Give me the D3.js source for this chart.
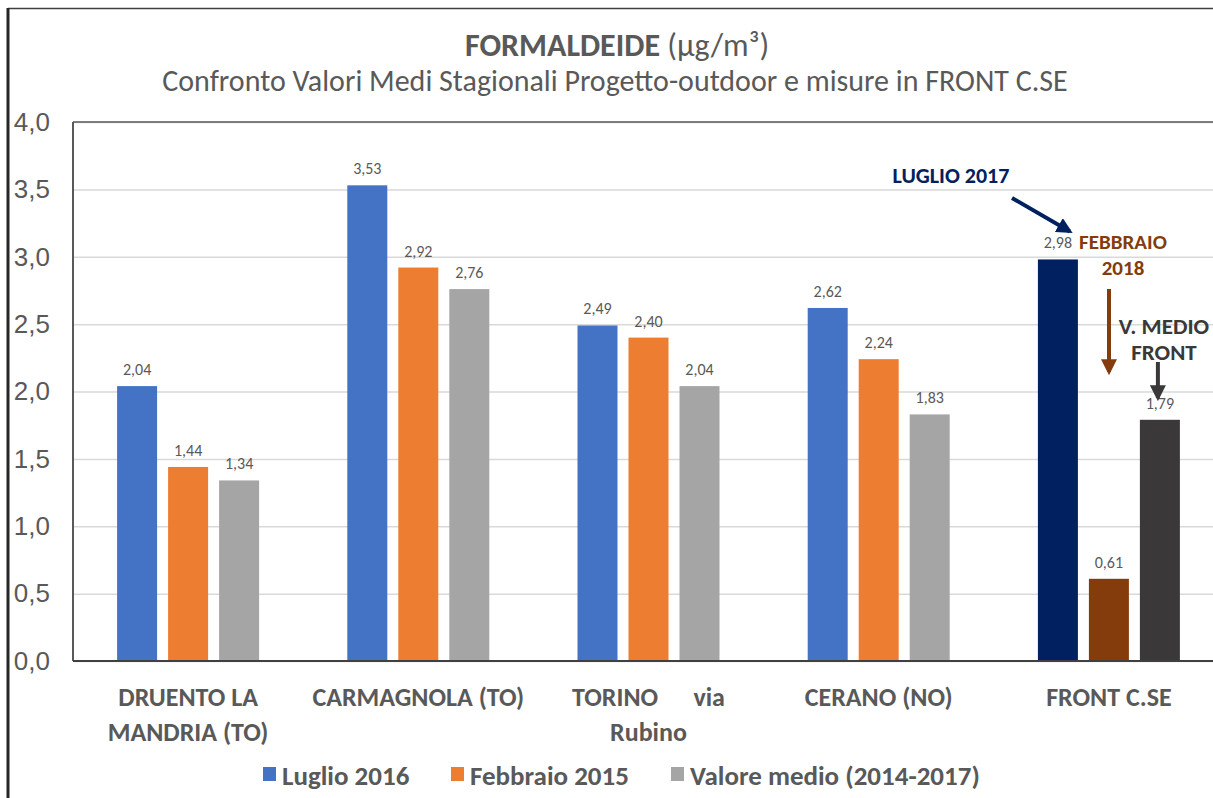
<!DOCTYPE html>
<html>
<head>
<meta charset="utf-8">
<script src="https://cdn.jsdelivr.net/npm/d3@7"></script>
<style>
  body { margin: 0; background: #fff; }
  svg { display: block; font-family: Carlito, "Liberation Sans Narrow", "Open Sans", sans-serif; }
  text { white-space: pre; }
</style>
</head>
<body>
<svg id="chart" width="1213" height="798"></svg>
<script>
const categories = [
  ['DRUENTO LA', 'MANDRIA (TO)'],
  ['CARMAGNOLA (TO)'],
  ['TORINO      via', 'Rubino'],
  ['CERANO (NO)'],
  ['FRONT C.SE']
]
const seriesNames = ['Luglio 2016', 'Febbraio 2015', 'Valore medio (2014-2017)']
const luglio = [2.04, 3.53, 2.49, 2.62, 2.98]
const febbraio = [1.44, 2.92, 2.40, 2.24, 0.61]
const medio = [1.34, 2.76, 2.04, 1.83, 1.79]
const yTicks = [0, 0.5, 1, 1.5, 2, 2.5, 3, 3.5, 4]

const colors = ['#4472C4', '#ED7D31', '#A5A5A5']
const frontColors = ['#002060', '#843C0C', '#3A3838']

const svg = d3.select('#chart')
const margin = { left: 73, top: 122, bottom: 661, right: 1224 }
const it = d3.formatLocale({ decimal: ',', thousands: '.', grouping: [3], currency: ['', '€'] })
const fmt1 = it.format('.1f')
const fmt2 = it.format('.2f')

const catKeys = categories.map((c) => c.join(' '))
const xScale = d3.scaleBand().domain(catKeys).range([margin.left, margin.right])
const x1 = d3.scaleBand().domain(seriesNames).range([-71, 71]).paddingInner(11 / 51)
const yScale = d3.scaleLinear().domain([0, 4]).range([margin.bottom, margin.top])

// outer border
svg.append('line').attr('x1', 8).attr('x2', 1213).attr('y1', 8.5).attr('y2', 8.5).attr('stroke', '#404040').attr('stroke-width', 1.5)
svg.append('line').attr('x1', 8).attr('x2', 8).attr('y1', 8).attr('y2', 798).attr('stroke', '#262626').attr('stroke-width', 3)

// title
const title = svg.append('text').attr('x', 617).attr('y', 56).attr('text-anchor', 'middle').attr('font-size', '32px').attr('fill', '#595959')
title.append('tspan').attr('font-weight', 'bold').text('FORMALDEIDE ')
title.append('tspan').text('(µg/m³)')
svg.append('text').attr('x', 615).attr('y', 91).attr('text-anchor', 'middle').attr('font-size', '30px').attr('fill', '#595959').text('Confronto Valori Medi Stagionali Progetto-outdoor e misure in FRONT C.SE')

// grid
svg
  .append('g')
  .attr('class', 'grid')
  .attr('transform', `translate(${margin.left},0)`)
  .call(d3.axisLeft(yScale).tickValues(yTicks).tickSize(-(margin.right - margin.left)).tickFormat(''))
  .call((g) => g.select('.domain').remove())
  .call((g) => g.selectAll('line').attr('stroke', '#D9D9D9').attr('stroke-width', 1.5))

// y axis labels
svg
  .append('g')
  .attr('transform', `translate(${margin.left},0)`)
  .call(d3.axisLeft(yScale).tickValues(yTicks).tickSize(0).tickPadding(23).tickFormat(fmt1))
  .call((g) => g.select('.domain').remove())
  .call((g) => g.selectAll('text').attr('font-size', '26px').attr('fill', '#595959').attr('font-family', 'inherit'))

// plot frame
svg.append('line').attr('x1', margin.left).attr('x2', margin.right).attr('y1', margin.top).attr('y2', margin.top).attr('stroke', '#595959').attr('stroke-width', 1.5)
svg.append('line').attr('x1', margin.left).attr('x2', margin.left).attr('y1', margin.top).attr('y2', margin.bottom).attr('stroke', '#595959').attr('stroke-width', 2)

// bars
const rows = catKeys.map((k, i) => ({
  key: k,
  last: i === catKeys.length - 1,
  values: [luglio[i], febbraio[i], medio[i]]
}))

const groups = svg
  .selectAll('.group')
  .data(rows)
  .enter()
  .append('g')
  .attr('class', 'group')
  .attr('transform', (d) => `translate(${xScale(d.key) + xScale.bandwidth() / 2},0)`)

groups
  .selectAll('rect')
  .data((d) => d.values.map((v, j) => ({ v, j, last: d.last })))
  .enter()
  .append('rect')
  .attr('x', (d) => x1(seriesNames[d.j]))
  .attr('width', x1.bandwidth())
  .attr('y', (d) => yScale(d.v))
  .attr('height', (d) => yScale(0) - yScale(d.v))
  .attr('fill', (d) => (d.last ? frontColors[d.j] : colors[d.j]))

groups
  .selectAll('.label')
  .data((d) => d.values.map((v, j) => ({ v, j })))
  .enter()
  .append('text')
  .attr('class', 'label')
  .attr('x', (d) => x1(seriesNames[d.j]) + x1.bandwidth() / 2)
  .attr('y', (d) => yScale(d.v) - 11)
  .attr('text-anchor', 'middle')
  .attr('font-size', '16px')
  .attr('fill', '#595959')
  .text((d) => fmt2(d.v))

// x axis line
svg.append('line').attr('x1', margin.left).attr('x2', margin.right).attr('y1', margin.bottom).attr('y2', margin.bottom).attr('stroke', '#404040').attr('stroke-width', 2)

// category labels
groups
  .selectAll('.cat')
  .data((d) => categories[catKeys.indexOf(d.key)])
  .enter()
  .append('text')
  .attr('class', 'cat')
  .attr('x', 0)
  .attr('y', (d, i) => 706 + i * 35)
  .attr('text-anchor', 'middle')
  .attr('font-size', '26px')
  .attr('font-weight', 'bold')
  .attr('fill', '#595959')
  .text((d) => d)

// legend
const legendX = [263, 451, 671]
const legend = svg
  .selectAll('.legend')
  .data(seriesNames)
  .enter()
  .append('g')
  .attr('class', 'legend')
  .attr('transform', (d, i) => `translate(${legendX[i]},767)`)
legend.append('rect').attr('width', 13).attr('height', 14).attr('fill', (d, i) => colors[i])
legend.append('text').attr('x', 19).attr('y', 18).attr('font-size', '27px').attr('font-weight', 'bold').attr('fill', '#595959').text((d) => d)

// annotations for FRONT C.SE
const front = rows[rows.length - 1]
const fx = xScale(front.key) + xScale.bandwidth() / 2
const barCx = (j) => fx + x1(seriesNames[j]) + x1.bandwidth() / 2

const defs = svg.append('defs')
frontColors.forEach((c, i) => {
  defs
    .append('marker')
    .attr('id', 'arrow' + i)
    .attr('viewBox', '0 0 10 10')
    .attr('refX', 8)
    .attr('refY', 5)
    .attr('markerWidth', 4)
    .attr('markerHeight', 4)
    .attr('orient', 'auto')
    .append('path')
    .attr('d', 'M0,0 L10,5 L0,10 z')
    .attr('fill', c)
})

const annotations = [
  { lines: ['LUGLIO 2017'], x: 951, y: 183, size: 22, color: frontColors[0], arrow: [1012, 198, barCx(0) + 12, yScale(front.values[0]) - 28], m: 0 },
  { lines: ['FEBBRAIO', '2018'], x: 1123, y: 249, size: 21, color: frontColors[1], arrow: [1109, 289, 1109, 372], m: 1 },
  { lines: ['V. MEDIO', 'FRONT'], x: 1164, y: 334, size: 23, color: frontColors[2], arrow: [barCx(2) - 2, 362, barCx(2) - 2, 398], m: 2 }
]

annotations.forEach((a) => {
  a.lines.forEach((l, i) => {
    svg.append('text').attr('x', a.x).attr('y', a.y + i * 26).attr('text-anchor', 'middle').attr('font-size', a.size + 'px').attr('font-weight', 'bold').attr('fill', a.color).text(l)
  })
  svg
    .append('line')
    .attr('x1', a.arrow[0])
    .attr('y1', a.arrow[1])
    .attr('x2', a.arrow[2])
    .attr('y2', a.arrow[3])
    .attr('stroke', a.color)
    .attr('stroke-width', 4)
    .attr('marker-end', `url(#arrow${a.m})`)
})
</script>
</body>
</html>
